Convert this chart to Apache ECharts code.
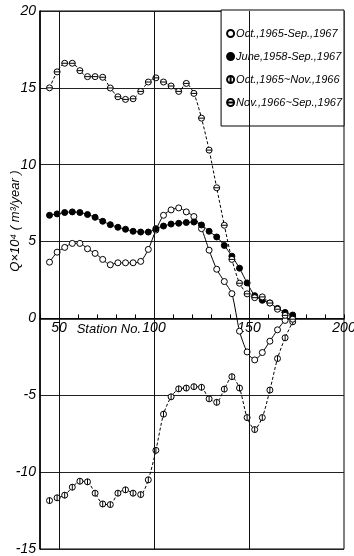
<!DOCTYPE html>
<html>
<head>
<meta charset="utf-8">
<script src="https://cdn.jsdelivr.net/npm/echarts@6/dist/echarts.min.js"></script>
<style>
  html, body { margin: 0; padding: 0; background: #fff; }
  #chart { width: 354px; height: 556px; }
</style>
</head>
<body>
<div id="chart"></div>
<script>
// Station numbers along the channel
const stations = [45, 49, 53, 57, 61, 65, 69, 73, 77, 81, 85, 89, 93, 97, 101, 105, 109,
  113, 117, 121, 125, 129, 133, 137, 141, 145, 149, 153, 157, 161, 165, 169, 173];

const seriesNames = ['Oct.,1965-Sep.,1967', 'June,1958-Sep.,1967', 'Oct.,1965~Nov.,1966', 'Nov.,1966~Sep.,1967'];

// Q x 10^4 (m3/year) per station
const qOct65Sep67 = [3.66, 4.31, 4.62, 4.88, 4.88, 4.53, 4.23, 3.84, 3.49, 3.62, 3.62, 3.62, 3.71, 4.49, 5.75, 6.71, 7.06,
  7.19, 6.93, 6.63, 5.84, 4.44, 3.20, 2.40, 1.61, -0.83, -2.18, -2.70, -2.22, -1.48, -0.74, -0.13, 0.05];
const qJun58Sep67 = [6.71, 6.80, 6.89, 6.93, 6.89, 6.76, 6.58, 6.32, 6.10, 5.93, 5.80, 5.67, 5.62, 5.62, 5.84, 6.01, 6.14,
  6.19, 6.24, 6.27, 6.08, 5.67, 5.30, 4.75, 4.05, 3.27, 2.31, 1.48, 1.18, 1.01, 0.65, 0.39, 0.22];
const qOct65Nov66 = [-11.85, -11.67, -11.50, -10.98, -10.59, -10.63, -11.37, -12.07, -12.11, -11.37, -11.15, -11.37, -11.46, -10.50, -8.58, -6.23, -5.10,
  -4.58, -4.53, -4.44, -4.48, -5.23, -5.46, -4.60, -3.79, -4.53, -6.45, -7.23, -6.45, -4.66, -2.61, -1.26, -0.22];
const qNov66Sep67 = [15.00, 16.04, 16.60, 16.60, 16.12, 15.73, 15.73, 15.69, 14.99, 14.42, 14.25, 14.29, 14.77, 15.38, 15.65, 15.38, 15.12,
  14.77, 15.29, 14.64, 13.03, 10.95, 8.50, 6.06, 3.84, 2.29, 1.60, 1.35, 1.40, 1.00, 0.60, 0.20, -0.05];

const xLabelTicks = [50, 100, 150, 200];
const xGridLines = [50, 100, 150];
const yTitle = 'Q\u00d710\u2074 ( m\u00b3/year )';

const FONT = '"Liberation Sans", Arial, sans-serif';

// circle with a vertical bar / with a horizontal bar
const SYM_VBAR = 'path://M0,5A5,5 0 1,1 10,5A5,5 0 1,1 0,5ZM5,0L5,10';
const SYM_HBAR = 'path://M0,5A5,5 0 1,1 10,5A5,5 0 1,1 0,5ZM0,5L10,5';

function pairs(vals) { return stations.map((s, i) => [s, vals[i]]); }

const chart = echarts.init(document.getElementById('chart'), null, { renderer: 'canvas' });

const baseSeries = (name, vals, symbol, fill, dashed) => ({
  name: name,
  type: 'line',
  data: pairs(vals),
  symbol: symbol,
  symbolSize: 6,
  showAllSymbol: true,
  smooth: 0.25,
  itemStyle: { color: fill, borderColor: '#000', borderWidth: 1 },
  lineStyle: { color: '#000', width: 1, type: dashed ? [3, 2] : 'solid' },
  emphasis: { disabled: true },
  z: 3
});

const option = {
  animation: false,
  backgroundColor: '#fff',
  grid: {
    left: 40, right: 10, top: 11, bottom: 7,
    outerBoundsMode: 'none', containLabel: false,
    show: true, borderColor: '#000', borderWidth: 1, backgroundColor: 'transparent'
  },
  xAxis: {
    type: 'value', min: 40, max: 200, interval: 10,
    axisLine: { onZero: false, lineStyle: { color: '#000', width: 1.6 } },
    axisTick: { show: true, inside: true, length: 4, lineStyle: { color: '#000', width: 1 } },
    axisLabel: {
      color: '#000', fontStyle: 'italic', fontSize: 14, fontFamily: FONT, margin: 3,
      formatter: v => xLabelTicks.includes(v) ? String(v) : ''
    },
    splitLine: { show: false }
  },
  yAxis: {
    type: 'value', min: -15, max: 20, interval: 5,
    axisLine: { show: true, onZero: false, lineStyle: { color: '#000', width: 1.6 } },
    axisTick: { show: false },
    axisLabel: { color: '#000', fontStyle: 'italic', fontSize: 14, fontFamily: FONT, margin: 4 },
    splitLine: { show: true, lineStyle: { color: '#222', width: 1 } }
  },
  legend: {
    orient: 'vertical', right: 10, top: 10,
    backgroundColor: '#fff', borderColor: '#000', borderWidth: 1,
    padding: [18, 2, 18, 5], itemGap: 12, itemWidth: 7, itemHeight: 7,
    textStyle: { color: '#000', fontStyle: 'italic', fontSize: 11, fontFamily: FONT, padding: [0, 0, 0, -3] },
    data: [
      { name: seriesNames[0], icon: 'circle' },
      { name: seriesNames[1], icon: 'circle' },
      { name: seriesNames[2], icon: SYM_VBAR },
      { name: seriesNames[3], icon: SYM_HBAR }
    ],
    selectedMode: false
  },
  series: [
    Object.assign(baseSeries(seriesNames[0], qOct65Sep67, 'circle', '#fff', false), {
      markLine: {
        silent: true, symbol: 'none', label: { show: false },
        lineStyle: { color: '#111', width: 1, type: 'solid' },
        data: xGridLines.map(v => ({ xAxis: v }))
      }
    }),
    baseSeries(seriesNames[1], qJun58Sep67, 'circle', '#000', false),
    baseSeries(seriesNames[2], qOct65Nov66, SYM_VBAR, '#fff', true),
    baseSeries(seriesNames[3], qNov66Sep67, SYM_HBAR, '#fff', true)
  ]
};

chart.setOption(option);

// lift the station axis from the grid bottom up to Q = 0
const pZero = chart.convertToPixel({ xAxisIndex: 0, yAxisIndex: 0 }, [100, 0]);
const pBottom = chart.convertToPixel({ xAxisIndex: 0, yAxisIndex: 0 }, [100, -15]);

chart.setOption({
  xAxis: { offset: pZero[1] - pBottom[1] },
  graphic: [
    {
      type: 'text', x: 15, y: 221, rotation: Math.PI / 2,
      style: { text: yTitle, font: 'italic 13px ' + FONT, fill: '#000', align: 'center', verticalAlign: 'middle' }
    },
    {
      type: 'text', x: pZero[0] - 13, y: pZero[1] + 4,
      style: { text: 'Station No.', font: 'italic 13px ' + FONT, fill: '#000', align: 'right', verticalAlign: 'top' }
    }
  ]
});
</script>
</body>
</html>
